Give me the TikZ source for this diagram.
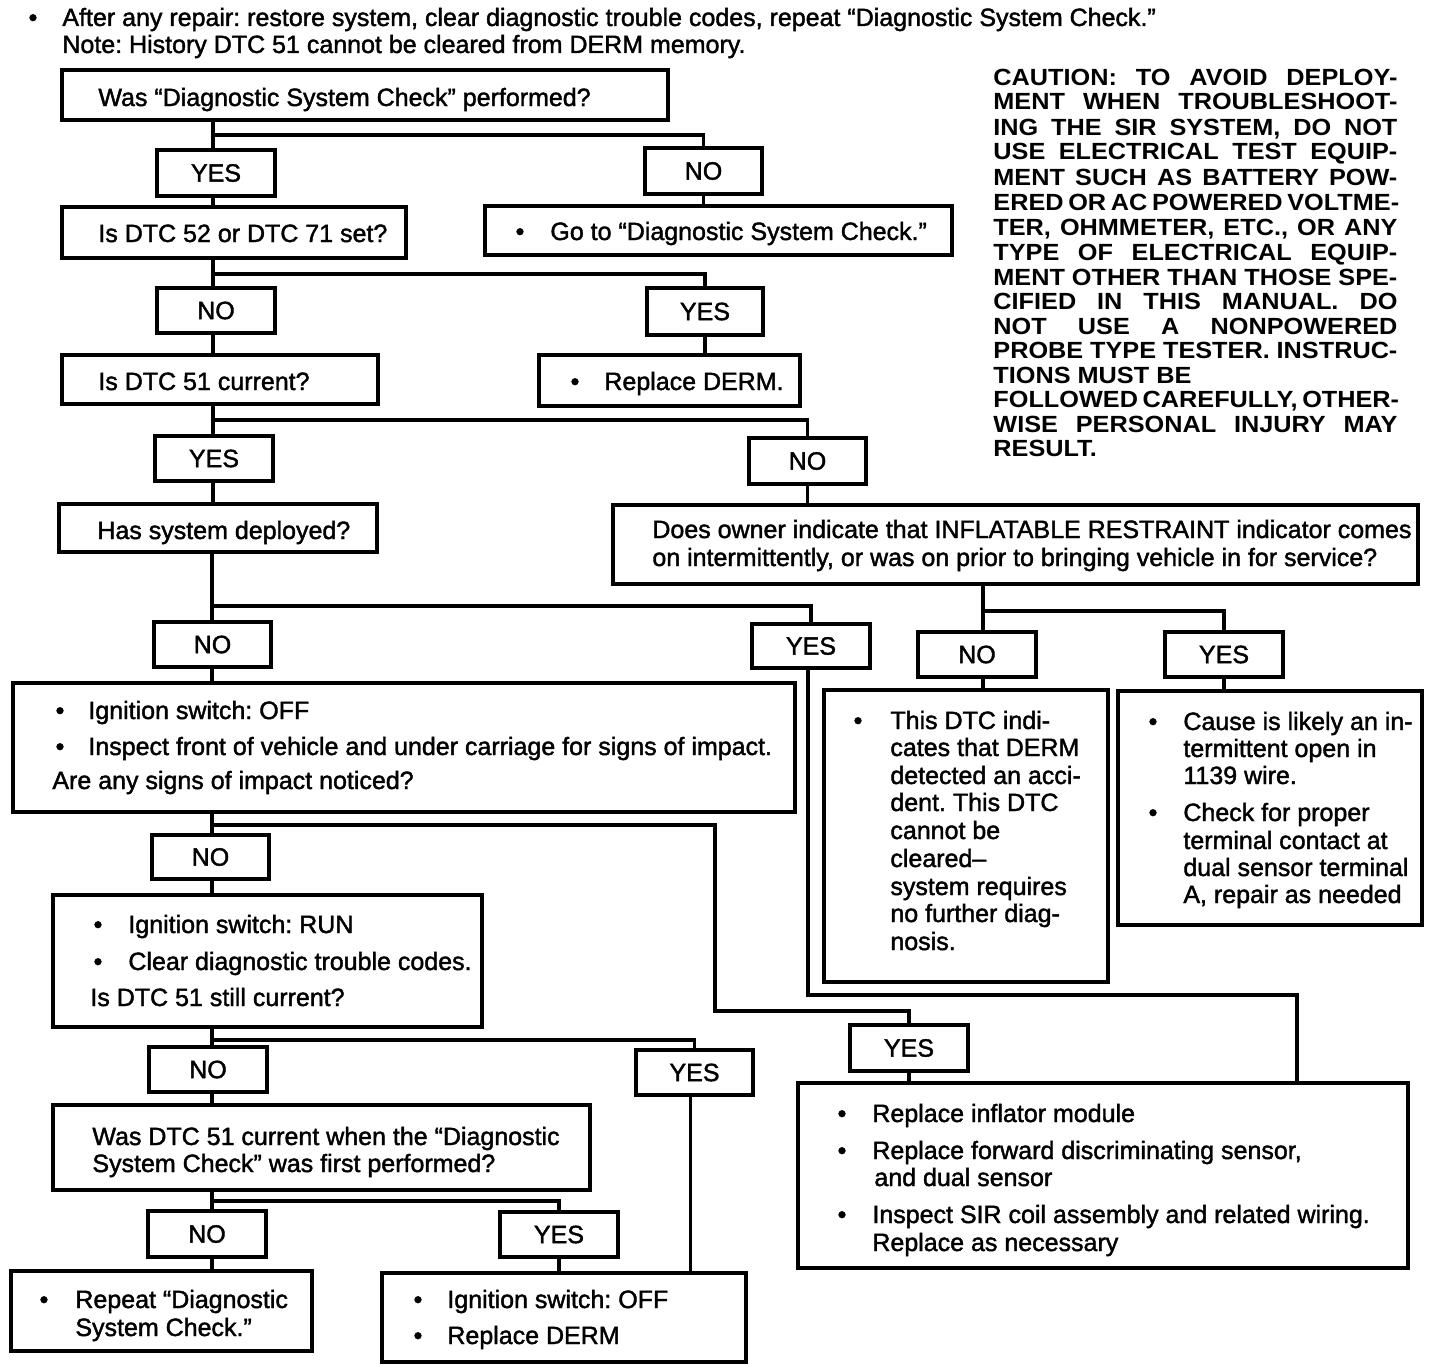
\documentclass[tikz,border=0pt]{standalone}
\usepackage{fontspec}
\setmainfont{Liberation Sans}[FakeBold=1.6]
\newfontfamily\cautionfont[FakeStretch=1.08]{Liberation Sans Bold}
\usetikzlibrary{fit}
\frenchspacing
\newcommand\Tline[4]{\node[txt,anchor=base west] (#1) at (#2,#3) {#4};}
\newcommand\Bul[3]{\node[txt,anchor=base] (#1) at (#2,#3) {\textbullet};}
\newcommand\Cline[3]{\node[ctxt,anchor=base west] (#1) at (993,#2) {\makebox[202pt][s]{#3}};}
\newcommand\Cfree[3]{\node[ctxt,anchor=base west] (#1) at (993,#2) {#3};}
\newcommand\Lbl[2]{\node[txt] (#1l) at (#1.center) {#2};}
\begin{document}
\begin{tikzpicture}[x=0.5pt,y=-0.5pt,
  box/.style={draw,line width=1.6pt,inner sep=0pt,rectangle},
  txt/.style={inner sep=0pt,font=\fontsize{12.5pt}{14pt}\selectfont},
  ctxt/.style={inner sep=0pt,font=\cautionfont\fontsize{11.7pt}{12pt}\selectfont},
  conn/.style={line width=1.6pt}]
\useasboundingbox[fill=white] (0,0) rectangle (1440,1370);

% header
\Bul{hb}{33}{26}
\Tline{h1}{62}{26}{After any repair: restore system, clear diagnostic trouble codes, repeat “Diagnostic System Check.”}
\Tline{h2}{62}{53}{Note: History DTC 51 cannot be cleared from DERM memory.}

% caution
\Cline{c1}{86}{CAUTION: TO AVOID DEPLOY-}
\Cline{c2}{110}{MENT WHEN TROUBLESHOOT-}
\Cline{c3}{135}{ING THE SIR SYSTEM, DO NOT}
\Cline{c4}{160}{USE ELECTRICAL TEST EQUIP-}
\Cline{c5}{185}{MENT SUCH AS BATTERY POW-}
\Cline{c6}{210}{ERED OR AC POWERED VOLTME-}
\Cline{c7}{235}{TER, OHMMETER, ETC., OR ANY}
\Cline{c8}{260}{TYPE OF ELECTRICAL EQUIP-}
\Cline{c9}{285}{MENT OTHER THAN THOSE SPE-}
\Cline{c10}{309}{CIFIED IN THIS MANUAL. DO}
\Cline{c11}{334}{NOT USE A NONPOWERED}
\Cline{c12}{358}{PROBE TYPE TESTER. INSTRUC-}
\Cfree{c13}{383}{TIONS MUST BE}
\Cline{c14}{407}{FOLLOWED CAREFULLY, OTHER-}
\Cline{c15}{432}{WISE PERSONAL INJURY MAY}
\Cfree{c16}{456}{RESULT.}

% boxes
\node[box,fit={(62,70)(668,120)}] (b1) {};
\Tline{t1}{98}{106}{Was “Diagnostic System Check” performed?}
\node[box,fit={(157,150)(275,196)}] (yes1) {};
\node[box,fit={(645,148)(762,194)}] (no1) {};
\node[box,fit={(62,207)(406,258)}] (b2) {};
\Tline{t2}{98}{242}{Is DTC 52 or DTC 71 set?}
\node[box,fit={(485,206)(952,255)}] (b3) {};
\Bul{u3}{520}{240}
\Tline{t3}{550}{240}{Go to “Diagnostic System Check.”}
\node[box,fit={(157,288)(275,333)}] (no2) {};
\node[box,fit={(647,288)(763,335)}] (yes2) {};
\node[box,fit={(62,355)(378,404)}] (b4) {};
\Tline{t4}{98}{390}{Is DTC 51 current?}
\node[box,fit={(539,355)(800,406)}] (b5) {};
\Bul{u5}{575}{390}
\Tline{t5}{604}{390}{Replace DERM.}
\node[box,fit={(155,436)(273,481)}] (yes3) {};
\node[box,fit={(749,438)(866,484)}] (no3) {};
\node[box,fit={(59,504)(377,552)}] (b6) {};
\Tline{t6}{97}{539}{Has system deployed?}
\node[box,fit={(613,505)(1418,584)}] (b7) {};
\Tline{t7a}{652}{538}{Does owner indicate that INFLATABLE RESTRAINT indicator comes}
\Tline{t7b}{652}{566}{on intermittently, or was on prior to bringing vehicle in for service?}
\node[box,fit={(154,622)(271,667)}] (no4) {};
\node[box,fit={(752,624)(870,668)}] (yes4) {};
\node[box,fit={(918,632)(1036,677)}] (no5) {};
\node[box,fit={(1165,632)(1283,677)}] (yes5) {};
\node[box,fit={(13,683)(795,812)}] (b8) {};
\Bul{u8a}{60}{719}
\Tline{t8a}{88}{719}{Ignition switch: OFF}
\Bul{u8b}{60}{755}
\Tline{t8b}{88}{755}{Inspect front of vehicle and under carriage for signs of impact.}
\Tline{t8c}{52}{789}{Are any signs of impact noticed?}
\node[box,fit={(824,690)(1108,982)}] (b9) {};
\Bul{u9}{858}{729}
\Tline{t9a}{890}{729}{This DTC indi-}
\Tline{t9b}{890}{756}{cates that DERM}
\Tline{t9c}{890}{784}{detected an acci-}
\Tline{t9d}{890}{811}{dent. This DTC}
\Tline{t9e}{890}{839}{cannot be}
\Tline{t9f}{890}{867}{cleared–}
\Tline{t9g}{890}{895}{system requires}
\Tline{t9h}{890}{922}{no further diag-}
\Tline{t9i}{890}{950}{nosis.}
\node[box,fit={(1118,691)(1422,925)}] (b10) {};
\Bul{u10a}{1153}{730}
\Tline{t10a}{1183}{730}{Cause is likely an in-}
\Tline{t10b}{1183}{757}{termittent open in}
\Tline{t10c}{1183}{784}{1139 wire.}
\Bul{u10b}{1153}{821}
\Tline{t10d}{1183}{821}{Check for proper}
\Tline{t10e}{1183}{849}{terminal contact at}
\Tline{t10f}{1183}{876}{dual sensor terminal}
\Tline{t10g}{1183}{903}{A, repair as needed}
\node[box,fit={(152,835)(269,879)}] (no6) {};
\node[box,fit={(53,895)(482,1027)}] (b11) {};
\Bul{u11a}{98}{933}
\Tline{t11a}{128}{933}{Ignition switch: RUN}
\Bul{u11b}{98}{970}
\Tline{t11b}{128}{970}{Clear diagnostic trouble codes.}
\Tline{t11c}{90}{1006}{Is DTC 51 still current?}
\node[box,fit={(850,1025)(968,1071)}] (yes6) {};
\node[box,fit={(798,1083)(1408,1268)}] (b12) {};
\Bul{u12a}{842}{1122}
\Tline{t12a}{872}{1122}{Replace inflator module}
\Bul{u12b}{842}{1159}
\Tline{t12b}{872}{1159}{Replace forward discriminating sensor,}
\Tline{t12c}{874}{1186}{and dual sensor}
\Bul{u12c}{842}{1223}
\Tline{t12d}{872}{1223}{Inspect SIR coil assembly and related wiring.}
\Tline{t12e}{872}{1251}{Replace as necessary}
\node[box,fit={(149,1047)(267,1092)}] (no7) {};
\node[box,fit={(636,1050)(753,1095)}] (yes7) {};
\node[box,fit={(53,1105)(590,1190)}] (b13) {};
\Tline{t13a}{92}{1145}{Was DTC 51 current when the “Diagnostic}
\Tline{t13b}{92}{1172}{System Check” was first performed?}
\node[box,fit={(148,1211)(266,1257)}] (no8) {};
\node[box,fit={(500,1212)(618,1257)}] (yes8) {};
\node[box,fit={(11,1271)(312,1351)}] (b14) {};
\Bul{u14}{44}{1308}
\Tline{t14a}{75}{1308}{Repeat “Diagnostic}
\Tline{t14b}{75}{1336}{System Check.”}
\node[box,fit={(382,1273)(746,1362)}] (b15) {};
\Bul{u15a}{418}{1308}
\Tline{t15a}{447}{1308}{Ignition switch: OFF}
\Bul{u15b}{418}{1344}
\Tline{t15b}{447}{1344}{Replace DERM}

% YES / NO labels
\Lbl{yes1}{YES}\Lbl{no1}{NO}\Lbl{no2}{NO}\Lbl{yes2}{YES}
\Lbl{yes3}{YES}\Lbl{no3}{NO}\Lbl{no4}{NO}\Lbl{yes4}{YES}
\Lbl{no5}{NO}\Lbl{yes5}{YES}\Lbl{no6}{NO}\Lbl{yes6}{YES}
\Lbl{no7}{NO}\Lbl{yes7}{YES}\Lbl{no8}{NO}\Lbl{yes8}{YES}

% junction coordinates
\coordinate (j1) at (213,135);
\coordinate (j2) at (213,274);
\coordinate (j3) at (213,420);
\coordinate (j4) at (212,606);
\coordinate (j5) at (983,611);
\coordinate (j6) at (212,825);
\coordinate (k6a) at (715,1011);
\coordinate (j7) at (212,1040);
\coordinate (j8) at (212,1201);
\coordinate (k4a) at (808,995);
\coordinate (k4b) at (1297,995);

% connectors
\draw[conn] (b1.south -| j1) -- (j1) -- (j1 |- yes1.north);
\draw[conn] (j1) -| (no1.north);
\draw[conn] (yes1.south -| j1) -- (j1 |- b2.north);
\draw[conn] (no1.south) -- (no1.south |- b3.north);
\draw[conn] (b2.south -| j2) -- (j2) -- (j2 |- no2.north);
\draw[conn] (j2) -| (yes2.north);
\draw[conn] (no2.south -| j2) -- (j2 |- b4.north);
\draw[conn] (yes2.south) -- (yes2.south |- b5.north);
\draw[conn] (b4.south -| j3) -- (j3) -- (j3 |- yes3.north);
\draw[conn] (j3) -| (no3.north);
\draw[conn] (yes3.south -| j3) -- (j3 |- b6.north);
\draw[conn] (no3.south) -- (no3.south |- b7.north);
\draw[conn] (b6.south -| j4) -- (j4) -- (j4 |- no4.north);
\draw[conn] (j4) -| (yes4.north);
\draw[conn] (no4.south -| j4) -- (j4 |- b8.north);
\draw[conn] (b7.south -| j5) -- (j5) -- (j5 |- no5.north);
\draw[conn] (j5) -| (yes5.north);
\draw[conn] (no5.south -| j5) -- (j5 |- b9.north);
\draw[conn] (yes5.south) -- (yes5.south |- b10.north);
\draw[conn] (yes4.south -| k4a) -- (k4a) -- (k4b) -- (k4b |- b12.north);
\draw[conn] (b8.south -| j6) -- (j6) -- (j6 |- no6.north);
\draw[conn] (j6) -| (k6a) -| (yes6.north);
\draw[conn] (no6.south -| j6) -- (j6 |- b11.north);
\draw[conn] (yes6.south) -- (yes6.south |- b12.north);
\draw[conn] (b11.south -| j7) -- (j7) -- (j7 |- no7.north);
\draw[conn] (j7) -| (yes7.north);
\draw[conn] (no7.south -| j7) -- (j7 |- b13.north);
\draw[conn] (yes7.south) ++(-4,0) coordinate (y7s) -- (y7s |- b15.north);
\draw[conn] (b13.south -| j8) -- (j8) -- (j8 |- no8.north);
\draw[conn] (j8) -| (yes8.north);
\draw[conn] (no8.south -| j8) -- (j8 |- b14.north);
\draw[conn] (yes8.south) -- (yes8.south |- b15.north);
\end{tikzpicture}
\end{document}
